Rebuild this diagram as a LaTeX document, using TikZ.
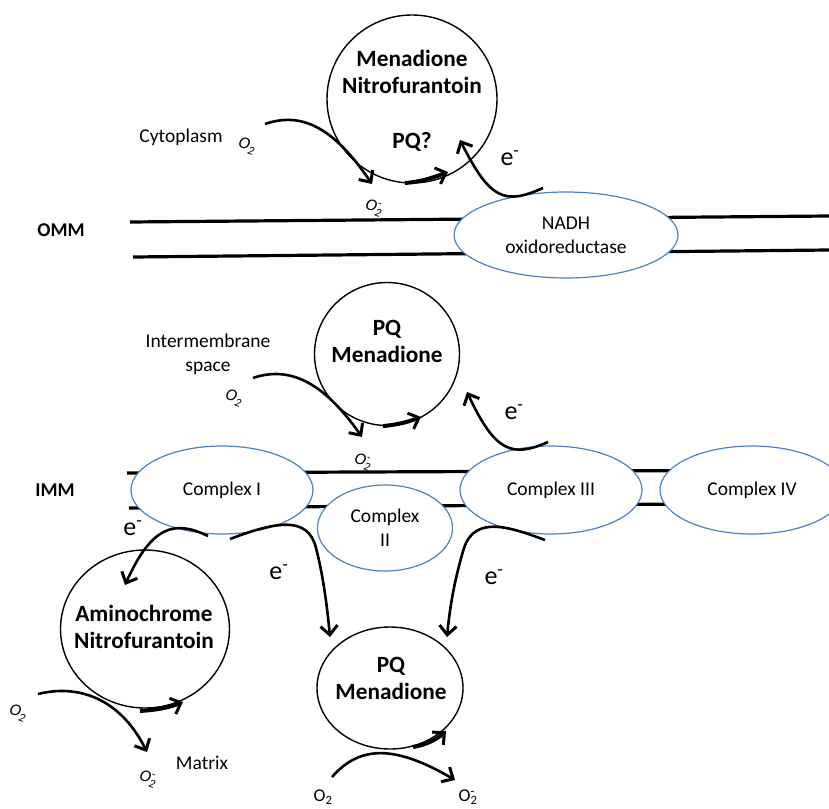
\documentclass[tikz,border=0pt]{standalone}
\usepackage{fontspec}
\setmainfont{Carlito}
\usetikzlibrary{shapes.geometric,arrows.meta}
\definecolor{cblue}{RGB}{79,129,189}
\newcommand\oxr{O\rlap{\textsuperscript{-}}\textsubscript{2}}
\newcommand\oxn{O\textsubscript{2}}
\begin{document}
\begin{tikzpicture}[x=1pt,y=-1pt,
 memb/.style={line width=3.2pt},
 cplx/.style={ellipse,draw=cblue,line width=1.2pt,fill=white,inner sep=0pt,align=center,font=\fontsize{19.5}{24}\selectfont},
 mol/.style={ellipse,draw=black,line width=1.4pt,fill=white,inner sep=0pt},
 boldtxt/.style={font=\fontsize{23.3}{27}\selectfont\bfseries,align=center,inner sep=0pt},
 lbl/.style={font=\fontsize{19.5}{24}\selectfont,align=center,inner sep=0pt},
 memlbl/.style={font=\fontsize{19.5}{24}\selectfont\bfseries,inner sep=0pt},
 elec/.style={font=\fontsize{26}{30}\selectfont,inner sep=0pt},
 oxy/.style={font=\fontsize{17}{20}\selectfont\itshape,rotate=-20,inner sep=0pt},
 oxyup/.style={font=\fontsize{18}{21}\selectfont,inner sep=0pt},
 flow/.style={line width=2.6pt,-{Straight Barb[length=9pt,width=17pt,line width=3pt]}},
 redox/.style={line width=4pt,-{Straight Barb[length=9pt,width=17pt,line width=3pt]}},
]
\path[clip] (0,0) rectangle (829,808);
\fill[white] (0,0) rectangle (829,808);

% membranes
\coordinate (omA1) at (130,222); \coordinate (omA2) at (829,216);
\coordinate (omB1) at (133,257); \coordinate (omB2) at (829,250);
\coordinate (imA1) at (127,473); \coordinate (imA2) at (829,470);
\coordinate (imB1) at (129,508); \coordinate (imB2) at (829,503);
\draw[memb] (omA1) -- (omA2);
\draw[memb] (omB1) -- (omB2);
\draw[memb] (imA1) -- (imA2);
\draw[memb] (imB1) -- (imB2);

\node[memlbl] (omm) at (61,230) {OMM};
\node[memlbl] (imm) at (55,490) {IMM};

% complexes
\node[cplx,minimum width=224pt,minimum height=86pt] (nadh) at (566,235) {NADH\\oxidoreductase};
\node[cplx,minimum width=182pt,minimum height=88pt] (c1) at (222,490) {Complex I};
\node[cplx,minimum width=135pt,minimum height=86pt] (c2) at (385,528) {Complex\\II};
\node[cplx,minimum width=182pt,minimum height=88pt] (c3) at (551,490) {Complex III};
\node[cplx,minimum width=184pt,minimum height=88pt] (c4) at (752,490) {Complex IV};

% molecules
\node[mol,minimum width=170pt,minimum height=168pt] (m1) at (412,99) {};
\node[boldtxt] (m1t) at (412,72) {Menadione\\Nitrofurantoin};
\node[boldtxt] (m1q) at (412,142) {PQ?};

\node[mol,minimum width=145pt,minimum height=143pt] (m2) at (387,354) {};
\node[boldtxt] (m2t) at (387,341) {PQ\\Menadione};

\node[mol,minimum width=169pt,minimum height=158pt] (m3) at (145,629) {};
\node[boldtxt] (m3t) at (144,627) {Aminochrome\\Nitrofurantoin};

\node[mol,minimum width=146pt,minimum height=122pt] (m4) at (390,688) {};
\node[boldtxt] (m4t) at (391,678) {PQ\\Menadione};

% labels
\node[lbl] (cyto) at (181,137) {Cytoplasm};
\node[lbl] (ims) at (208,354) {Intermembrane\\space};
\node[lbl] (matrix) at (202,763) {Matrix};

% top region arrows
\coordinate (a1s) at (265,124); \coordinate (a1e) at (372,184);
\draw[flow] (a1s) .. controls (300,112) and (332,125) .. (a1e);
\coordinate (r1s) at (405,183); \coordinate (r1e) at (448,172);
\draw[redox] (r1s) .. controls (420,182) and (432,178) .. (r1e);
\coordinate (e1s) at (543,188); \coordinate (e1e) at (460,140);
\draw[flow] (e1s) .. controls (505,205) and (490,200) .. (e1e);
\node[oxy] (o1) at (247,146) {\oxn};
\node[oxy] (o1r) at (374,208) {\oxr};
\node[elec] (e1) at (510,158) {e\textsuperscript{-}};

% middle region arrows
\coordinate (a2s) at (253,378); \coordinate (a2e) at (362,437);
\draw[flow] (a2s) .. controls (288,366) and (322,380) .. (a2e);
\coordinate (r2s) at (383,426); \coordinate (r2e) at (421,417);
\draw[redox] (r2s) .. controls (396,425) and (408,422) .. (r2e);
\coordinate (e2s) at (548,442); \coordinate (e2e) at (467,392);
\draw[flow] (e2s) .. controls (512,458) and (495,452) .. (e2e);
\node[oxy] (o2) at (234,398) {\oxn};
\node[oxy] (o2r) at (363,462) {\oxr};
\node[elec] (e2) at (514,412) {e\textsuperscript{-}};

% lower electron transfers
\coordinate (e3s) at (208,536); \coordinate (e3e) at (125,585);
\draw[flow] (e3s) .. controls (175,520) and (152,525) .. (e3e);
\node[elec] (e3) at (133,528) {e\textsuperscript{-}};

\coordinate (e4s) at (230,539); \coordinate (e4e) at (330,637);
\draw[flow] (e4s) .. controls (275,522) and (308,515) .. (316,548) .. controls (323,575) and (327,605) .. (e4e);
\node[elec] (e4) at (279,572) {e\textsuperscript{-}};

\coordinate (e5s) at (545,540); \coordinate (e5e) at (447,637);
\draw[flow] (e5s) .. controls (510,527) and (475,515) .. (464,548) .. controls (455,578) and (450,605) .. (e5e);
\node[elec] (e5) at (494,577) {e\textsuperscript{-}};

% aminochrome redox cycle
\coordinate (a3s) at (38,694); \coordinate (a3e) at (147,752);
\draw[flow] (a3s) .. controls (78,684) and (120,698) .. (a3e);
\coordinate (r3s) at (140,711); \coordinate (r3e) at (183,702);
\draw[redox] (r3s) .. controls (155,710) and (168,708) .. (r3e);
\node[oxy] (o3) at (18,713) {\oxn};
\node[oxy] (o3r) at (148,779) {\oxr};

% bottom PQ redox cycle
\coordinate (r4s) at (413,747); \coordinate (r4e) at (446,731);
\draw[redox] (r4s) .. controls (425,745) and (436,740) .. (r4e);
\coordinate (a4s) at (332,777); \coordinate (a4e) at (455,780);
\draw[flow] (a4s) .. controls (360,745) and (395,745) .. (a4e);
\node[oxyup] (o4) at (323,797) {\oxn};
\node[oxyup] (o4r) at (468,797) {\oxr};
\end{tikzpicture}
\end{document}
